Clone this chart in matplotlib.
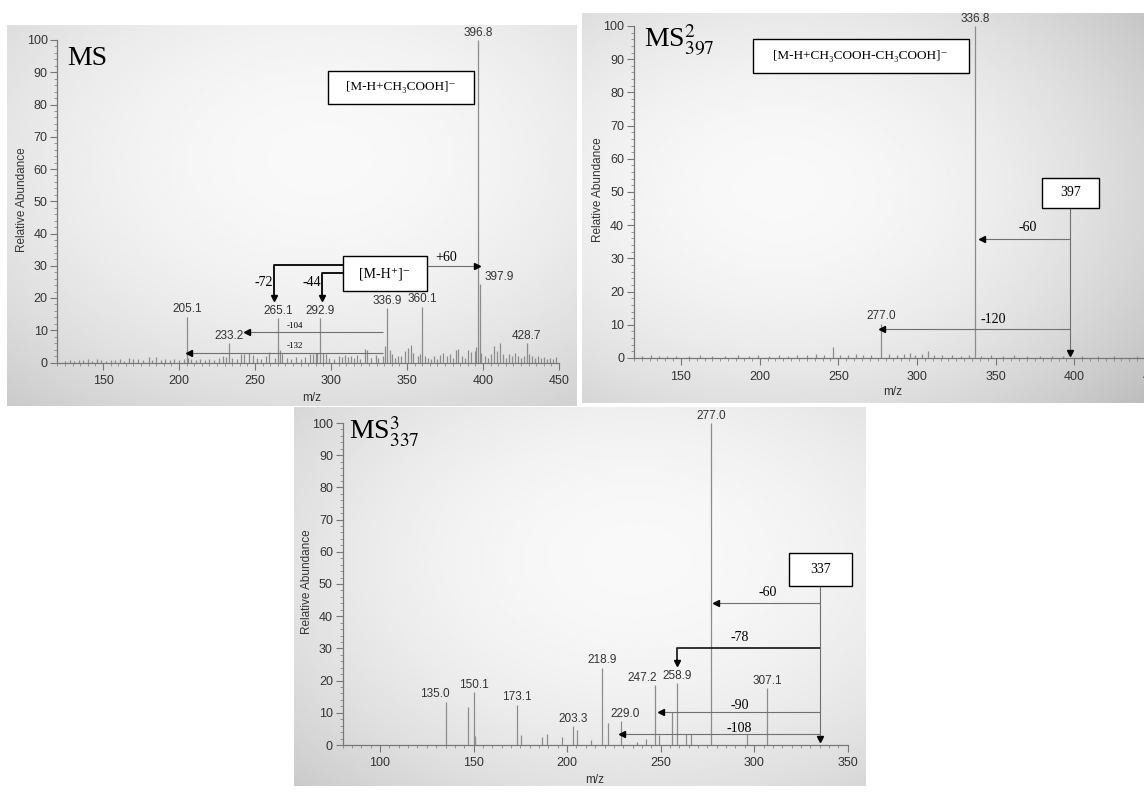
import numpy as np
import matplotlib.pyplot as plt
from matplotlib.patches import Rectangle
from matplotlib.ticker import MultipleLocator

plt.rcParams["font.family"] = ["Liberation Sans", "DejaVu Sans"]
plt.rcParams["mathtext.fontset"] = "stix"

W, H = 1144, 794
SERIF = ["Liberation Serif", "DejaVu Serif"]

# ---- MS (full scan) ----
ms1_peak_mz = [205.1, 233.2, 265.1, 292.9, 336.9, 360.1, 396.8, 397.9, 428.7]
ms1_peak_ab = [14.2, 6.0, 13.8, 13.8, 16.9, 17.3, 100.0, 24.3, 6.1]
ms1_minor_mz = [125, 128, 131, 134, 137, 140, 143, 146, 149, 152, 155, 158, 161, 164,
                167, 170, 173, 176, 180, 182, 185, 188, 191, 194, 197, 200, 203, 206,
                208, 211, 214, 217, 220, 223, 226, 229, 231, 235, 238, 241, 243, 246,
                249, 251, 254, 257, 259.5, 263, 266.5, 268, 271, 274, 277, 280, 283,
                286, 288, 290, 291, 295, 296.5, 299, 302, 305, 307, 309, 311, 313, 315,
                317, 319, 322.4, 323.7, 326, 329.6, 331, 334, 335.5, 338.5, 340, 342,
                344, 346, 348.7, 350.5, 352.5, 354, 357, 358.5, 362, 364, 366, 368, 370,
                372, 374, 376, 378, 380, 382, 383.5, 386, 388, 390, 392, 394.5, 395.5,
                399, 401, 403, 405, 407.5, 409, 411, 413, 415, 417, 419, 421, 423, 425,
                427, 430, 432, 434, 436, 438, 440, 442, 444, 446, 448]
ms1_minor_ab = [0.6, 0.8, 0.5, 0.9, 0.7, 1.0, 0.6, 1.2, 0.8, 0.6, 0.9, 0.7, 1.0, 0.6,
                1.4, 1.1, 1.1, 0.7, 1.8, 0.9, 1.6, 0.8, 1.0, 0.7, 1.2, 0.8, 1.0, 1.5,
                1.0, 0.8, 1.2, 0.7, 1.0, 0.8, 1.4, 2.0, 1.8, 1.5, 1.0, 2.5, 2.7, 3.0,
                2.2, 1.5, 1.0, 2.0, 3.3, 1.5, 4.0, 2.5, 1.5, 1.0, 1.6, 1.2, 1.8,
                2.5, 2.7, 3.0, 2.8, 3.0, 2.5, 1.5, 1.0, 2.0, 1.6, 2.2, 1.8, 2.0, 1.4,
                2.4, 1.2, 4.3, 4.0, 1.5, 2.2, 1.5, 2.0, 5.0, 4.0, 2.5, 1.5,
                2.0, 2.0, 3.5, 4.5, 5.5, 3.0, 2.0, 2.5, 2.0, 1.5, 1.2, 2.0, 1.0,
                2.2, 3.0, 2.0, 2.5, 1.5, 4.0, 4.2, 2.0, 1.5, 4.0, 3.2, 3.5, 4.8,
                3.0, 2.0, 1.5, 2.5, 5.0, 3.5, 6.0, 2.5, 1.5, 2.5, 2.0, 3.0, 2.0, 1.5,
                2.0, 2.5, 2.0, 1.5, 2.0, 1.5, 1.8, 1.2, 1.5, 1.0, 1.6]

# ---- MS2 of 397 ----
ms2_peak_mz = [277.0, 336.8]
ms2_peak_ab = [10.2, 100.0]
ms2_minor_mz = [125, 131, 136, 141, 147, 155, 162, 170, 178, 186, 193, 199, 206, 212,
                218, 224, 230, 236, 241, 246.6, 251, 256, 261, 266, 271, 282, 287, 292,
                295.6, 299, 303, 307, 311, 316, 322, 328, 333, 341, 347, 355, 362, 370,
                378, 386, 393, 405, 415, 425, 440]
ms2_minor_ab = [0.5, 0.8, 0.6, 0.7, 0.5, 0.6, 0.8, 0.5, 0.6, 0.9, 0.6, 0.8, 0.5, 1.0,
                0.7, 0.8, 1.0, 1.2, 0.8, 3.4, 0.8, 1.0, 1.3, 1.0, 0.8, 1.1, 0.9, 1.3,
                1.5, 1.0, 1.2, 2.2, 1.0, 0.8, 1.0, 0.7, 0.9, 0.6, 0.8, 0.6, 0.8, 0.6,
                0.7, 0.5, 0.7, 0.5, 0.6, 0.5, 0.6]

# ---- MS3 of 337 ----
ms3_peak_mz = [135.0, 150.1, 173.1, 203.3, 218.9, 229.0, 247.2, 258.9, 277.0, 307.1]
ms3_peak_ab = [13.5, 16.5, 12.5, 5.9, 24.0, 7.5, 18.6, 19.2, 100.0, 17.7]
ms3_minor_mz = [147.0, 151.0, 175.2, 186.7, 189.3, 197.3, 205.4, 213.0, 221.9, 237.4,
                242.0, 249.3, 256.3, 263.4, 266.0, 296.0]
ms3_minor_ab = [11.7, 2.8, 3.0, 2.4, 3.3, 2.4, 4.7, 1.5, 6.9, 0.8,
                1.8, 3.1, 10.3, 3.3, 3.3, 3.3]

fig = plt.figure(figsize=(W / 100, H / 100), dpi=100)


def px_axes(left, top, right, bottom, z=1):
    return fig.add_axes([left / W, 1 - bottom / H, (right - left) / W, (bottom - top) / H],
                        zorder=z)


def photo(left, top, right, bottom, cx, cy, k):
    # greyish paper background of the photographed spectrum
    bg = px_axes(left, top, right, bottom, z=0)
    xx, yy = np.meshgrid(np.linspace(0, 1, 200), np.linspace(0, 1, 200))
    img = 0.975 - k * ((xx - cx) ** 2 + (yy - cy) ** 2)
    bg.imshow(img, cmap="gray", vmin=0, vmax=1, extent=[0, 1, 0, 1], aspect="auto",
              interpolation="bilinear")
    bg.set_axis_off()


def spectrum(ax, xlim, peak_mz, peak_ab, minor_mz, minor_ab):
    ax.set_facecolor("none")
    ax.vlines(minor_mz, 0, minor_ab, color="#8c8c8c", lw=0.9, clip_on=False)
    ax.vlines(peak_mz, 0, peak_ab, color="#8c8c8c", lw=0.9, clip_on=False)
    ax.set_xlim(*xlim)
    ax.set_ylim(0, 100)
    for s in ["top", "right"]:
        ax.spines[s].set_visible(False)
    for s in ["left", "bottom"]:
        ax.spines[s].set_color("#777777")
        ax.spines[s].set_linewidth(0.9)
    ax.xaxis.set_major_locator(MultipleLocator(50))
    ax.xaxis.set_minor_locator(MultipleLocator(5))
    ax.yaxis.set_major_locator(MultipleLocator(10))
    ax.yaxis.set_minor_locator(MultipleLocator(2))
    ax.tick_params(which="major", length=5, width=0.8, color="#777777", labelsize=9,
                   labelcolor="#333333")
    ax.tick_params(axis="x", which="major", pad=4)
    ax.tick_params(axis="y", which="major", pad=2)
    ax.tick_params(which="minor", length=2.5, width=0.6, color="#888888")


def peak_labels(ax, peak_mz, peak_ab, special):
    for m, a in zip(peak_mz, peak_ab):
        dx, dy, ha = special.get(m, (0, 0.4, "center"))
        ax.text(m + dx, a + dy, f"{m:.1f}", ha=ha, va="bottom", fontsize=8.5,
                color="#333333", clip_on=False)


def box(ax, x0, y0, x1, y1, label, size=9.5):
    ax.add_patch(Rectangle((x0, y0), x1 - x0, y1 - y0, facecolor="white",
                           edgecolor="black", lw=1.0, clip_on=False, zorder=4))
    ax.text((x0 + x1) / 2, (y0 + y1) / 2, label, ha="center", va="center", fontsize=size,
            family=SERIF, zorder=5, clip_on=False)


def path(ax, xs, ys, head, lw=0.8, color="#707070"):
    ax.plot(xs, ys, color=color, lw=lw, clip_on=False, zorder=3, solid_capstyle="butt")
    ax.plot(xs[-1], ys[-1], marker=head, color="black", ms=5, clip_on=False, zorder=3)


def note(ax, x, y, s, size=10, ha="center"):
    ax.text(x, y, s, ha=ha, va="center", fontsize=size, family=SERIF, clip_on=False, zorder=5)


def axis_titles(xlab, ylab):
    fig.text(ylab[0] / W, 1 - ylab[1] / H, "Relative Abundance", rotation=90, ha="center",
             va="center", fontsize=8.5, color="#333333")
    fig.text(xlab[0] / W, 1 - xlab[1] / H, "m/z", ha="center", va="center", fontsize=8.5,
             color="#333333")


# ---------------- panel 1: MS ----------------
photo(7, 25, 577, 406, 0.55, 0.35, 0.25)
ax1 = px_axes(57.4, 40, 559, 362.5)
spectrum(ax1, (120, 450), ms1_peak_mz, ms1_peak_ab, ms1_minor_mz, ms1_minor_ab)
peak_labels(ax1, ms1_peak_mz, ms1_peak_ab, {397.9: (3.0, 0.4, "left")})
ax1.text(126.3, 92.2, "MS", fontsize=20, family=SERIF, va="baseline")
box(ax1, 298, 80.2, 394, 90.4, "[M-H+CH\u2083COOH]\u207b")
box(ax1, 307.6, 22.1, 362.9, 33.0, "[M-H\u207a]\u207b", size=10)
path(ax1, [362.9, 396.3], [30.0, 30.0], ">")
note(ax1, 376, 32.6, "+60")
path(ax1, [307.6, 262.5, 262.5], [30.2, 30.2, 20.0], "v", lw=1.3, color="black")
note(ax1, 262.0, 24.7, "-72", ha="right")
path(ax1, [307.6, 294.2, 294.2], [27.7, 27.7, 20.0], "v", lw=1.3, color="black")
note(ax1, 293.8, 24.7, "-44", ha="right")
path(ax1, [333.9, 245.0], [9.4, 9.4], "<")
note(ax1, 276.3, 11.3, "-104", size=6.5)
path(ax1, [333.9, 206.8], [3.0, 3.0], "<")
note(ax1, 276.3, 5.1, "-132", size=6.5)
axis_titles((312, 398), (22, 200))

# ---------------- panel 2: MS2 397 ----------------
photo(582, 13, 1144, 403, 0.35, 0.45, 0.32)
ax2 = px_axes(633.8, 26, 1160.8, 358)
spectrum(ax2, (120, 455), ms2_peak_mz, ms2_peak_ab, ms2_minor_mz, ms2_minor_ab)
peak_labels(ax2, ms2_peak_mz, ms2_peak_ab, {277.0: (0, 0.6, "center")})
ax2.text(126.5, 93.3, r"MS$^{2}_{397}$", fontsize=20, family=SERIF, va="baseline")
box(ax2, 195.6, 85.8, 332.8, 96.0, "[M-H+CH\u2083COOH-CH\u2083COOH]\u207b")
box(ax2, 379.2, 45.3, 415.6, 54.1, "397", size=10)
path(ax2, [397.3, 397.3], [45.3, 1.6], "v")
path(ax2, [397.3, 341.2], [35.7, 35.7], "<")
note(ax2, 370.5, 39.4, "-60")
path(ax2, [397.3, 278.0], [8.6, 8.6], "<")
note(ax2, 348.8, 11.7, "-120")
axis_titles((893, 392), (598, 190))

# ---------------- panel 3: MS3 337 ----------------
photo(294, 407, 866, 786, 0.6, 0.4, 0.25)
ax3 = px_axes(342.6, 423, 847.75, 745)
spectrum(ax3, (80, 350), ms3_peak_mz, ms3_peak_ab, ms3_minor_mz, ms3_minor_ab)
peak_labels(ax3, ms3_peak_mz, ms3_peak_ab,
            {135.0: (-5.6, 0.4, "center"), 229.0: (1.8, 0.4, "center"),
             247.2: (0.8, 0.3, "right")})
ax3.text(83.5, 94.9, r"MS$^{3}_{337}$", fontsize=20, family=SERIF, va="baseline")
box(ax3, 318.8, 49.4, 352.1, 59.7, "337", size=10)
path(ax3, [335.1, 335.1], [49.4, 1.8], "v")
path(ax3, [335.1, 279.8], [44.0, 44.0], "<")
note(ax3, 307.0, 47.3, "-60")
path(ax3, [335.1, 258.9, 258.9], [30.2, 30.2, 25.6], "v", lw=1.3, color="#222222")
note(ax3, 292.1, 33.3, "-78")
path(ax3, [335.1, 250.0], [10.3, 10.3], "<")
note(ax3, 292.1, 12.4, "-90")
path(ax3, [335.1, 229.6], [3.3, 3.3], "<")
note(ax3, 292.0, 5.2, "-108")
axis_titles((595, 780), (307, 582))

fig.savefig("out.png", dpi=100)
